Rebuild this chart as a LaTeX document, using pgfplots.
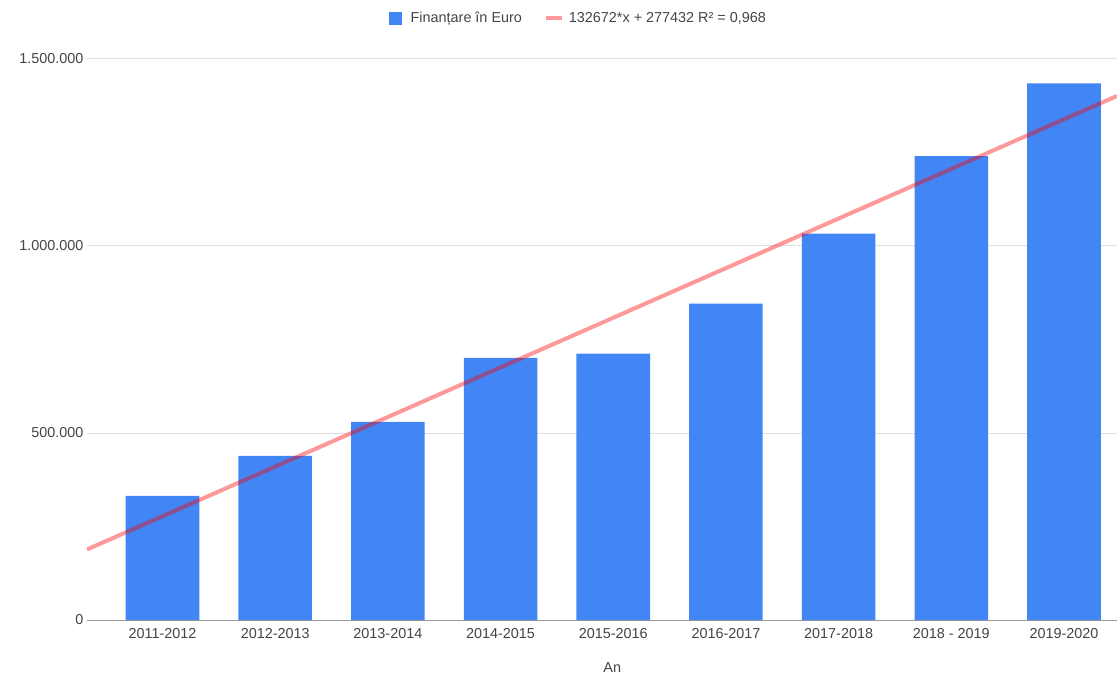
\documentclass[border=0pt]{standalone}
\usepackage{pgfplots}
\pgfplotsset{compat=1.18}
\usepackage{fontspec}
\setmainfont{Liberation Sans}
\definecolor{barblue}{HTML}{4285F4}
\definecolor{trendred}{HTML}{FF0000}
\definecolor{ticktext}{HTML}{444444}
\definecolor{gridgray}{HTML}{E0E0E0}
\definecolor{axisgray}{HTML}{999999}
\begin{document}
\begin{tikzpicture}
\begin{axis}[
  at={(0pt,0pt)}, anchor=south west,
  scale only axis,
  width=1030pt, height=561pt,
  xmin=-0.67, xmax=8.47,
  ymin=0, ymax=1500000,
  ytick={0,500000,1000000,1500000},
  scaled y ticks=false,
  yticklabel style={/pgf/number format/.cd, fixed, precision=0, 1000 sep={.}, assume math mode=true},
  xtick=data,
  xticklabels={2011-2012,2012-2013,2013-2014,2014-2015,2015-2016,2016-2017,2017-2018,2018 - 2019,2019-2020},
  major tick length=0pt,
  axis x line*=bottom, axis y line*=left,
  x axis line style={draw=axisgray, line width=1pt, -},
  y axis line style={draw=none},
  ymajorgrids, grid style={draw=gridgray, line width=1pt},
  tick label style={font=\fontsize{14.4}{17}\selectfont, text=ticktext},
  xticklabel style={yshift=-5pt},
  xlabel={An},
  xlabel style={font=\fontsize{14.4}{17}\selectfont, text=ticktext, at={(axis description cs:0.51,-0.084)}, anchor=center},
  legend columns=2,
  legend style={draw=none, fill=none, font=\fontsize{14.4}{17}\selectfont, text=ticktext,
    at={(axis description cs:0.477,1.073)}, anchor=center,
    /tikz/every even column/.append style={column sep=20pt},
    /tikz/every odd column/.append style={column sep=0pt}},
]
\addplot[ybar, bar width=73.6pt, bar shift=0pt, fill=barblue, draw=none,
  legend image code/.code={\fill[barblue] (0pt,-6.5pt) rectangle (13pt,6.5pt);}]
  coordinates {(0,332000) (1,439000) (2,530000) (3,701000) (4,712000) (5,846000) (6,1033000) (7,1240000) (8,1435000)};
\addlegendentry{\hspace{7pt}Finanțare în Euro}
\addplot[draw=trendred, draw opacity=0.4, line width=4pt, no marks,
  legend image code/.code={\draw[trendred, draw opacity=0.4, line width=4pt] (0pt,0pt) -- (16pt,0pt);}]
  coordinates {(-0.67,188542) (8.47,1401164)};
\addlegendentry{\hspace{3pt}132672*x + 277432 R² = 0,968}
\end{axis}
\pgfresetboundingbox
\path (-87pt,-55pt) rectangle (1030pt,620pt);
\end{tikzpicture}
\end{document}
